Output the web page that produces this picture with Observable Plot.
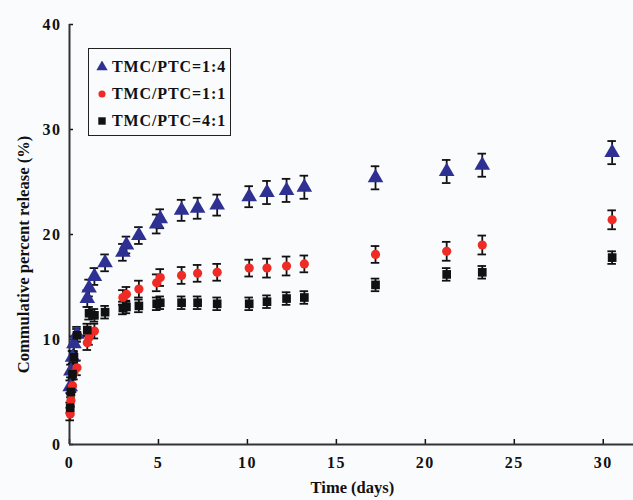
<!DOCTYPE html>
<html>
<head>
<meta charset="utf-8">
<script src="https://cdn.jsdelivr.net/npm/d3@7"></script>
<script src="https://cdn.jsdelivr.net/npm/@observablehq/plot@0.6"></script>
<style>
  html, body { margin: 0; padding: 0; background: #fafbfd; }
  #wrap { position: relative; width: 633px; height: 500px; }
  #wrap svg text { font-family: "Liberation Serif", "Times New Roman", serif !important; font-weight: bold; }
  #wrap svg g[aria-label*="tick label"] text { letter-spacing: 1.5px; }
  #legend { position: absolute; left: 88px; top: 48px; width: 141px; height: 86px;
    border: 1.5px solid #222; font-family: "Liberation Serif", "Times New Roman", serif; font-weight: bold;
    font-size: 16px; color: #111; box-sizing: content-box; }
  .row { position: absolute; left: 7px; height: 20px; line-height: 20px; white-space: nowrap; letter-spacing: 0.9px; }
  .row svg { vertical-align: -1px; margin-right: 4px; }
</style>
</head>
<body>
<div id="wrap"></div>
<script>
const times = [0.04, 0.08, 0.17, 0.25, 0.42, 1.0, 1.1, 1.4, 2.0, 3.0, 3.2, 3.9, 4.9, 5.1, 6.3, 7.2, 8.3, 10.1, 11.1, 12.2, 13.2, 17.2, 21.2, 23.2, 30.5];
const series = ["TMC/PTC=1:4", "TMC/PTC=1:1", "TMC/PTC=4:1"];
const release14 = [5.5, 7.0, 8.3, 9.6, 10.5, 13.9, 14.9, 16.0, 17.3, 18.3, 19.0, 19.9, 21.0, 21.5, 22.3, 22.5, 22.8, 23.6, 24.0, 24.2, 24.5, 25.4, 26.0, 26.6, 27.8];
const release11 = [2.9, 4.2, 5.6, 6.8, 7.3, 9.7, 10.2, 10.8, null, 14.0, 14.3, 14.8, 15.4, 15.9, 16.1, 16.3, 16.4, 16.8, 16.8, 17.0, 17.2, 18.1, 18.4, 19.0, 21.4];
const release41 = [3.5, 5.0, 6.7, 8.3, 10.4, 10.9, 12.5, 12.3, 12.6, 13.0, 13.1, 13.2, 13.4, 13.5, 13.5, 13.5, 13.4, 13.4, 13.6, 13.9, 14.0, 15.2, 16.2, 16.4, 17.8];
const err14 = [0.6, 0.6, 0.6, 0.7, 0.7, 0.8, 0.8, 0.8, 0.8, 0.8, 0.8, 0.8, 0.9, 0.9, 1.0, 1.0, 1.0, 1.0, 1.1, 1.1, 1.1, 1.1, 1.1, 1.1, 1.1];
const err11 = [0.6, 0.6, 0.6, 0.6, 0.7, 0.7, 0.7, 0.7, 0.7, 0.7, 0.7, 0.8, 0.8, 0.8, 0.8, 0.8, 0.8, 0.8, 0.9, 0.9, 0.8, 0.8, 0.9, 0.9, 0.9];
const err41 = [0.5, 0.5, 0.5, 0.5, 0.6, 0.6, 0.6, 0.6, 0.6, 0.6, 0.6, 0.6, 0.6, 0.6, 0.6, 0.6, 0.6, 0.6, 0.6, 0.6, 0.6, 0.6, 0.6, 0.6, 0.6];
const xTicks = [0, 5, 10, 15, 20, 25, 30];
const yTicks = [0, 10, 20, 30, 40];
const colors = ["#2e3192", "#ee2b24", "#111111"];
const symbols = ["triangle", "circle", "square"];
const radii = [5.8, 4.6, 4.9];

const vals = [release14, release11, release41];
const errs = [err14, err11, err41];
const data = [];
series.forEach((s, i) => times.forEach((t, j) => {
  if (vals[i][j] != null) data.push({series: s, idx: i, t, v: vals[i][j], e: errs[i][j]});
}));

const plot = Plot.plot({
  width: 633, height: 500,
  marginLeft: 69, marginRight: 0, marginTop: 24, marginBottom: 56,
  style: {background: "#fafbfd", fontSize: "16px", color: "#111", fontFamily: "Liberation Serif"},
  x: {domain: [0, 31.7]},
  y: {domain: [0, 40]},
  color: {domain: series, range: colors},
  symbol: {domain: series, range: symbols},
  marks: [
    Plot.axisX({ticks: xTicks, tickSize: -5, tickPadding: 17, tickFormat: d => d, label: null, fontSize: 16, strokeWidth: 1.5}),
    Plot.axisY({ticks: yTicks, tickSize: -4, tickPadding: 12, tickFormat: d => d, label: null, fontSize: 16, strokeWidth: 1.5}),
    Plot.ruleX([0], {y1: 0, y2: 40, stroke: "#333", strokeWidth: 2}),
    Plot.ruleY([0], {x1: 0, x2: 31.7, stroke: "#333", strokeWidth: 2}),
    Plot.ruleX(data, {x: "t", y1: d => d.v - d.e, y2: d => d.v + d.e, stroke: "#111", strokeWidth: 1.8}),
    Plot.ruleY(data, {y: d => d.v + d.e, x1: d => d.t - 0.24, x2: d => d.t + 0.24, stroke: "#111", strokeWidth: 1.8}),
    Plot.ruleY(data, {y: d => d.v - d.e, x1: d => d.t - 0.24, x2: d => d.t + 0.24, stroke: "#111", strokeWidth: 1.8}),
    ...series.map((s, i) => Plot.dot(data.filter(d => d.idx === i), {x: "t", y: "v", fill: "series", symbol: "series", r: radii[i], stroke: "none"})),
    Plot.text(["Time (days)"], {frameAnchor: "bottom", dy: 48, x: 15.9, text: d => d, fontSize: 16.5, lineAnchor: "bottom"}),
    Plot.text(["Commulative percent release (%)"], {frameAnchor: "left", dx: -46, dy: 20, rotate: -90, textAnchor: "middle", text: d => d, fontSize: 16.6})
  ]
});
const wrap = document.getElementById("wrap");
wrap.appendChild(plot);

const legend = document.createElement("div");
legend.id = "legend";
series.forEach((s, i) => {
  const row = document.createElement("div");
  row.className = "row";
  row.style.top = (8 + i * 27) + "px";
  const sw = d3.create("svg").attr("width", 12).attr("height", 12);
  sw.append("path").attr("transform", "translate(6,6)")
    .attr("d", d3.symbol(i === 0 ? d3.symbolTriangle : i === 1 ? d3.symbolCircle : d3.symbolSquare, i === 1 ? 40 : 55)())
    .attr("fill", colors[i]);
  row.appendChild(sw.node());
  row.appendChild(document.createTextNode(s));
  legend.appendChild(row);
});
wrap.appendChild(legend);
</script>
</body>
</html>
